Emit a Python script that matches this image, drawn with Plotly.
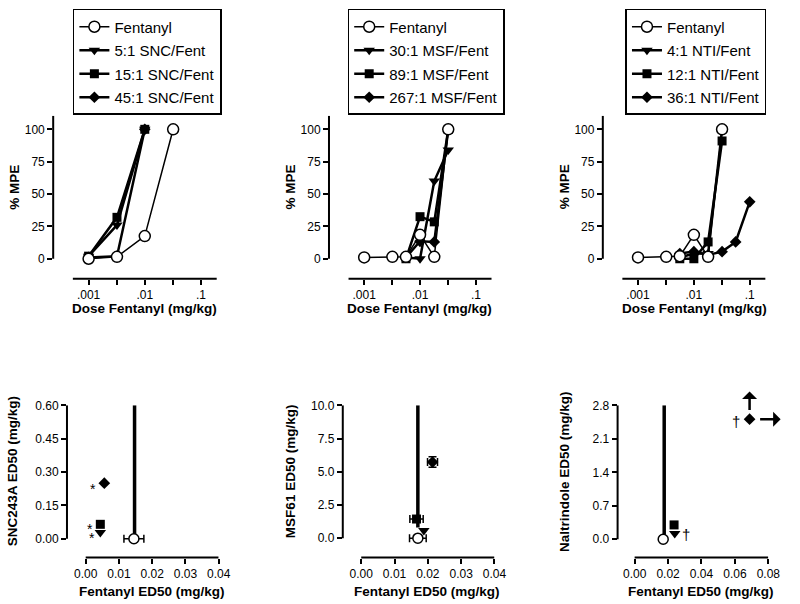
import plotly.graph_objects as go

# ---------------- data: top panels (dose-response, %MPE) ----------------
fent_snc_dose = [0.001, 0.0032, 0.01, 0.032]
fent_snc_mpe = [0, 1.5, 17.5, 100]
snc5_dose = [0.001, 0.0032, 0.01]
snc5_mpe = [2, 26, 100]
snc15_dose = [0.001, 0.0032, 0.01]
snc15_mpe = [2, 32, 100]
snc45_dose = [0.001, 0.0032, 0.01]
snc45_mpe = [1, 2, 100]

fent_msf_dose = [0.001, 0.0032, 0.0056, 0.01, 0.018, 0.032]
fent_msf_mpe = [1, 1.5, 1.5, 18.5, 1.5, 100]
msf30_dose = [0.0056, 0.01, 0.018, 0.032]
msf30_mpe = [1, 0, 60, 84]
msf89_dose = [0.0056, 0.01, 0.018, 0.032]
msf89_mpe = [0, 32.5, 28.5, 100]
msf267_dose = [0.0056, 0.01, 0.018, 0.032]
msf267_mpe = [1, 13.5, 13, 100]

fent_nti_dose = [0.001, 0.0032, 0.0056, 0.01, 0.018, 0.032]
fent_nti_mpe = [1, 1.5, 2, 18.5, 1.5, 100]
nti4_dose = [0.0056, 0.01, 0.018, 0.032]
nti4_mpe = [1, 4, 4, 100]
nti12_dose = [0.0056, 0.01, 0.018, 0.032]
nti12_mpe = [0, 0, 13, 91]
nti36_dose = [0.0056, 0.01, 0.018, 0.032, 0.056, 0.1]
nti36_mpe = [4, 5.5, 3, 5.5, 13, 44]

dose_ticks = [0.001, 0.00316, 0.01, 0.0316, 0.1]
dose_ticktext = [".001", "", ".01", "", ".1"]
mpe_ticks = [0, 25, 50, 75, 100]

# ---------------- data: bottom panels (isobolograms, ED50) ----------------
snc_fent_ed50 = [0.0145]; snc_fent_y = [0]; snc_fent_err = [0.003]
snc_iso_x = [0.0147, 0.0147]; snc_iso_y = [0, 0.6]
snc5_ed50 = [0.0044]; snc5_y = [0.028]
snc15_ed50 = [0.0044]; snc15_y = [0.065]
snc45_ed50 = [0.0056]; snc45_y = [0.25]
snc_star_x = [0.0021, 0.0013, 0.0019]; snc_star_y = [0.225, 0.045, 0.005]

msf_fent_ed50 = [0.017]; msf_fent_y = [0]; msf_fent_err = [0.0025]
msf_iso_x = [0.017, 0.017]; msf_iso_y = [0.8, 10]
msf30_ed50 = [0.0188]; msf30_y = [0.57]
msf89_ed50 = [0.0166]; msf89_y = [1.44]; msf89_xerr = [0.002]
msf267_ed50 = [0.0214]; msf267_y = [5.73]; msf267_xerr = [0.0015]; msf267_yerr = [0.4]

nti_fent_ed50 = [0.0171]; nti_fent_y = [0]; nti_fent_err = [0.001]
nti_iso_x = [0.0177, 0.0177]; nti_iso_y = [0, 2.8]
nti4_ed50 = [0.024]; nti4_y = [0.12]
nti12_ed50 = [0.0236]; nti12_y = [0.30]
nti36_ed50 = [0.0688]; nti36_y = [2.51]
nti_dag_x = [0.0309, 0.0607]; nti_dag_y = [0.10, 2.47]

# ---------------- styling / layout ----------------
W, H = 800, 604
FONT = "Liberation Sans, Arial, sans-serif"


def xd(px0, px1):
    return [px0 / W, px1 / W]


def yd(py_top, py_bot):
    return [1 - py_bot / H, 1 - py_top / H]


fig = go.Figure()

top_xrange = [-3.63, -0.72]
top_yrange = [-15.5, 110.5]

panels_top = [
    dict(ax="", dom=xd(54, 220), legend="legend",
         fent=(fent_snc_dose, fent_snc_mpe),
         series=[("5:1 SNC/Fent", snc5_dose, snc5_mpe, "triangle-down"),
                 ("15:1 SNC/Fent", snc15_dose, snc15_mpe, "square"),
                 ("45:1 SNC/Fent", snc45_dose, snc45_mpe, "diamond")]),
    dict(ax="2", dom=xd(334, 499), legend="legend2",
         fent=(fent_msf_dose, fent_msf_mpe),
         series=[("30:1 MSF/Fent", msf30_dose, msf30_mpe, "triangle-down"),
                 ("89:1 MSF/Fent", msf89_dose, msf89_mpe, "square"),
                 ("267:1 MSF/Fent", msf267_dose, msf267_mpe, "diamond")]),
    dict(ax="3", dom=xd(612, 777), legend="legend3",
         fent=(fent_nti_dose, fent_nti_mpe),
         series=[("4:1 NTI/Fent", nti4_dose, nti4_mpe, "triangle-down"),
                 ("12:1 NTI/Fent", nti12_dose, nti12_mpe, "square"),
                 ("36:1 NTI/Fent", nti36_dose, nti36_mpe, "diamond")]),
]

msize = {"triangle-down": 10, "square": 9, "diamond": 9}

shapes = []
annotations = []
layout_axes = {}

for p in panels_top:
    xa, ya = "x" + p["ax"], "y" + p["ax"]
    for rank, (name, dx, dy, sym) in enumerate(p["series"]):
        fig.add_trace(go.Scatter(
            x=dx, y=dy, name=name, mode="lines+markers", xaxis=xa, yaxis=ya,
            legend=p["legend"], legendrank=rank + 2,
            legendgroup=p["legend"] + name,
            line=dict(color="black", width=2.5),
            marker=dict(symbol=sym, size=msize[sym], color="black"),
            cliponaxis=False))
    fig.add_trace(go.Scatter(
        x=p["fent"][0], y=p["fent"][1], name="Fentanyl", mode="lines+markers",
        xaxis=xa, yaxis=ya, legend=p["legend"], legendrank=1,
        legendgroup=p["legend"] + "Fentanyl",
        line=dict(color="black", width=1.5),
        marker=dict(symbol="circle", size=11, color="white",
                    line=dict(color="black", width=1.5)),
        cliponaxis=False))
    layout_axes["xaxis" + p["ax"]] = dict(
        type="log", range=top_xrange, domain=p["dom"], anchor=ya,
        tickvals=dose_ticks, ticktext=dose_ticktext)
    layout_axes["yaxis" + p["ax"]] = dict(
        range=top_yrange, domain=yd(110, 275), anchor=xa,
        tickvals=mpe_ticks)
    # offset axis lines
    fx0 = (-3.28 - top_xrange[0]) / (top_xrange[1] - top_xrange[0])
    shapes.append(dict(type="line", xref=xa + " domain", yref=ya + " domain",
                       x0=fx0, x1=1, y0=0, y1=0,
                       line=dict(color="black", width=2)))
    shapes.append(dict(type="line", xref=xa + " domain", yref=ya,
                       x0=0, x1=0, y0=0, y1=top_yrange[1],
                       line=dict(color="black", width=2)))

# bottom panels
bottom = [
    dict(ax="4", dom=xd(68, 222), xr=[-0.00563, 0.04], yr=[-0.0844, 0.6],
         xt=[0, 0.01, 0.02, 0.03, 0.04], yt=[0, 0.15, 0.30, 0.45, 0.60],
         yfmt=".2f", xlim=0.04,
         fent=(snc_fent_ed50, snc_fent_y, snc_fent_err),
         iso=(snc_iso_x, snc_iso_y),
         pts=[(snc5_ed50, snc5_y, "triangle-down", None, None),
              (snc15_ed50, snc15_y, "square", None, None),
              (snc45_ed50, snc45_y, "diamond", None, None)]),
    dict(ax="5", dom=xd(348, 502), xr=[-0.00554, 0.04], yr=[-1.46, 10],
         xt=[0, 0.01, 0.02, 0.03, 0.04], yt=[0, 2.5, 5.0, 7.5, 10.0],
         yfmt=".1f", xlim=0.04,
         fent=(msf_fent_ed50, msf_fent_y, msf_fent_err),
         iso=(msf_iso_x, msf_iso_y),
         pts=[(msf30_ed50, msf30_y, "triangle-down", None, None),
              (msf89_ed50, msf89_y, "square", msf89_xerr, None),
              (msf267_ed50, msf267_y, "diamond", msf267_xerr, msf267_yerr)]),
    dict(ax="6", dom=xd(627, 780), xr=[-0.0102, 0.08], yr=[-0.382, 2.8],
         xt=[0, 0.02, 0.04, 0.06, 0.08], yt=[0, 0.7, 1.4, 2.1, 2.8],
         yfmt=".1f", xlim=0.08,
         fent=(nti_fent_ed50, nti_fent_y, nti_fent_err),
         iso=(nti_iso_x, nti_iso_y),
         pts=[(nti4_ed50, nti4_y, "triangle-down", None, None),
              (nti12_ed50, nti12_y, "square", None, None),
              (nti36_ed50, nti36_y, "diamond", None, None)]),
]

for b in bottom:
    xa, ya = "x" + b["ax"], "y" + b["ax"]
    fig.add_trace(go.Scatter(x=b["iso"][0], y=b["iso"][1], mode="lines",
                             xaxis=xa, yaxis=ya, showlegend=False,
                             line=dict(color="black", width=3.5),
                             hoverinfo="skip"))
    for (px, py, sym, ex, ey) in b["pts"]:
        tr = dict(x=px, y=py, mode="markers", xaxis=xa, yaxis=ya,
                  showlegend=False, cliponaxis=False,
                  marker=dict(symbol=sym, size=msize[sym], color="black"))
        if ex is not None:
            tr["error_x"] = dict(type="data", array=ex, color="black",
                                 thickness=1.5, width=4)
        if ey is not None:
            tr["error_y"] = dict(type="data", array=ey, color="black",
                                 thickness=1.5, width=4)
        fig.add_trace(go.Scatter(**tr))
    fig.add_trace(go.Scatter(
        x=b["fent"][0], y=b["fent"][1], mode="markers", xaxis=xa, yaxis=ya,
        showlegend=False, cliponaxis=False,
        marker=dict(symbol="circle", size=10, color="white",
                    line=dict(color="black", width=1.5)),
        error_x=dict(type="data", array=b["fent"][2], color="black",
                     thickness=1.5, width=4)))
    layout_axes["xaxis" + b["ax"]] = dict(
        range=b["xr"], domain=b["dom"], anchor=ya, tickvals=b["xt"],
        tickformat=".2f")
    layout_axes["yaxis" + b["ax"]] = dict(
        range=b["yr"], domain=yd(403, 557), anchor=xa, tickvals=b["yt"],
        tickformat=b["yfmt"])
    shapes.append(dict(type="line", xref=xa, yref=ya + " domain",
                       x0=0, x1=b["xlim"], y0=0, y1=0,
                       line=dict(color="black", width=2)))
    shapes.append(dict(type="line", xref=xa + " domain", yref=ya,
                       x0=0, x1=0, y0=0, y1=b["yr"][1],
                       line=dict(color="black", width=2)))

# common axis styling
for k, v in layout_axes.items():
    v.update(showgrid=False, zeroline=False, showline=False, ticks="outside",
             ticklen=5, tickwidth=1.5, tickcolor="black",
             tickfont=dict(family=FONT, size=12, color="black"))
    fig.update_layout({k: v})

# axis titles (positioned precisely as text annotations)
title_font = dict(family=FONT, size=13.5, color="black")


def title(text, cx, cy, angle=0):
    return dict(text="<b>" + text + "</b>", xref="paper", yref="paper",
                x=cx / W, y=1 - cy / H, xanchor="center", yanchor="middle",
                textangle=angle, showarrow=False, font=title_font)


for cx in (147, 426, 705):
    annotations.append(title("Dose Fentanyl (mg/kg)", cx, 305))
for cx in (15, 295, 573):
    annotations.append(title("% MPE", cx, 182, -90))
for cx in (154, 434, 712):
    annotations.append(title("Fentanyl ED50 (mg/kg)", cx, 591))
for cx, t in ((13, "SNC243A ED50 (mg/kg)"), (295, "MSF61 ED50 (mg/kg)"),
              (573, "Naltrindole ED50 (mg/kg)")):
    annotations.append(title(t, cx, 470, -90))

# significance marks
mark_font = dict(family=FONT, size=14, color="black")
for sx, sy in zip(snc_star_x, snc_star_y):
    annotations.append(dict(text="*", x=sx, y=sy, xref="x4", yref="y4",
                            xanchor="center", yanchor="middle",
                            showarrow=False, font=mark_font))
for dx_, dy_ in zip(nti_dag_x, nti_dag_y):
    annotations.append(dict(text="†", x=dx_, y=dy_, xref="x6", yref="y6",
                            xanchor="center", yanchor="middle",
                            showarrow=False,
                            font=dict(family=FONT, size=15, color="black")))
# arrows indicating ED50 beyond tested range
annotations.append(dict(text="", x=nti36_ed50[0], y=2.70, xref="x6", yref="y6",
                        ax=0, ay=-20, showarrow=True, arrowside="start",
                        arrowhead=2, arrowsize=1, arrowwidth=2.5,
                        arrowcolor="black"))
annotations.append(dict(text="", x=0.0751, y=nti36_y[0], xref="x6", yref="y6",
                        ax=22, ay=0, showarrow=True, arrowside="start",
                        arrowhead=2, arrowsize=1, arrowwidth=2.5,
                        arrowcolor="black"))

leg_common = dict(xanchor="left", yanchor="top", bgcolor="white",
                  bordercolor="black", borderwidth=1.5, tracegroupgap=1,
                  itemwidth=30,
                  font=dict(family=FONT, size=15, color="black"))
fig.update_layout(
    width=W, height=H, margin=dict(l=0, r=0, t=0, b=0),
    paper_bgcolor="white", plot_bgcolor="white",
    font=dict(family=FONT, color="black"),
    legend=dict(x=74 / W, y=1 - 2 / H, **leg_common),
    legend2=dict(x=353 / W, y=1 - 2 / H, **leg_common),
    legend3=dict(x=635 / W, y=1 - 2 / H, **leg_common),
    shapes=shapes, annotations=annotations,
)

fig.write_html("out.html", config={"displayModeBar": False},
               post_script="document.body.style.margin='0';"
                           "document.body.style.padding='0';")
